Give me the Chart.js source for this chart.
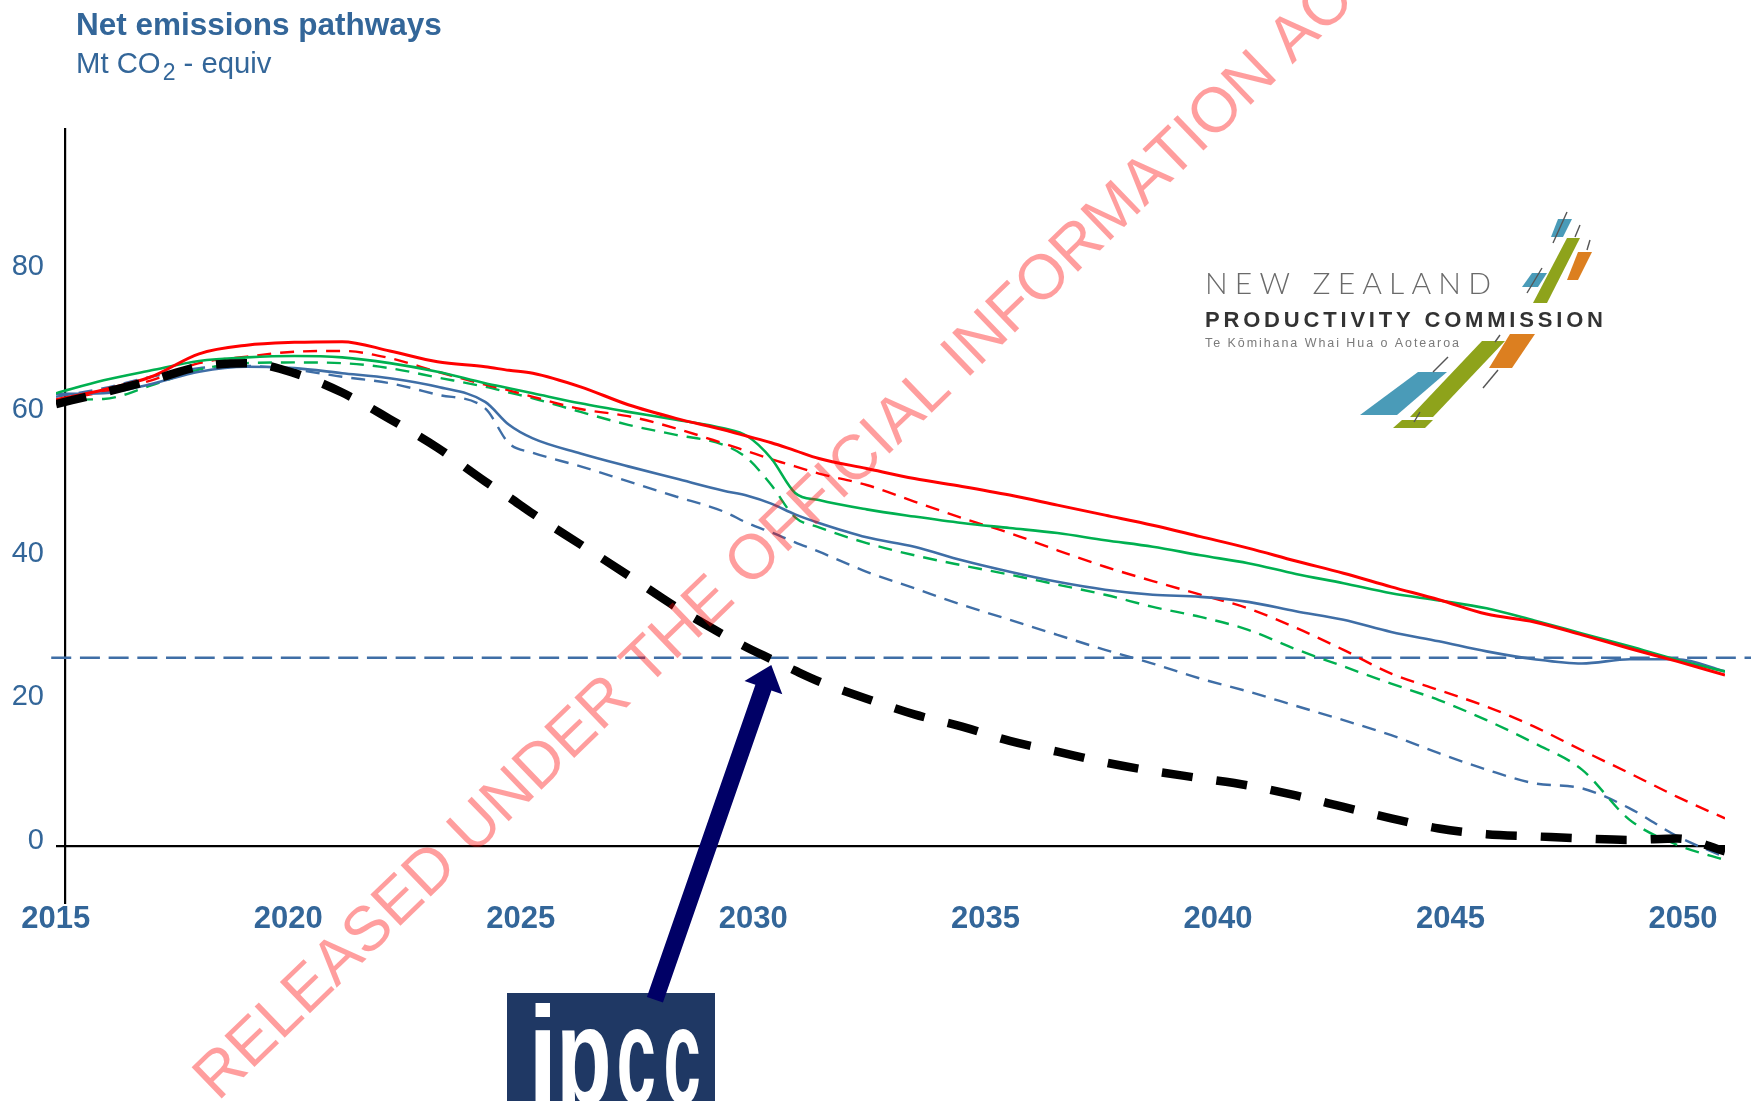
<!DOCTYPE html>
<html>
<head>
<meta charset="utf-8">
<title>Net emissions pathways</title>
<script src="https://cdn.jsdelivr.net/npm/chart.js@4.4.1/dist/chart.umd.min.js"></script>
<style>
  html, body { margin: 0; padding: 0; background: #fff; }
  canvas { display: block; }
</style>
</head>
<body>
<canvas id="myChart" width="1751" height="1101"></canvas>
<script>
// yearly points, plus a few half years where the pathways bend sharply
const years = [2015, 2016, 2017, 2018, 2019, 2020, 2021, 2022, 2023, 2024, 2024.5,
  2025, 2026, 2027, 2028, 2029, 2029.5, 2030, 2030.5, 2031, 2032, 2033, 2034, 2035,
  2036, 2037, 2038, 2039, 2040, 2041, 2042, 2043, 2044, 2045, 2046, 2047, 2048, 2049, 2050];

const redSolid = [62.2, 63.6, 65.4, 68.6, 69.8, 70.2, 70.3, 69.0, 67.5, 66.8, 66.3,
  65.9, 64.0, 61.5, 59.6, 58.0, 57.1, 56.2, 55.1, 54.0, 52.6, 51.2, 50.1, 48.9,
  47.5, 46.1, 44.7, 43.1, 41.5, 39.7, 38.0, 36.1, 34.3, 32.3, 31.2, 29.4, 27.5, 25.7, 23.8];
const redDashed = [62.1, 63.3, 64.9, 67.3, 68.2, 68.9, 69.0, 68.0, 66.1, 64.3, 63.5,
  62.6, 60.9, 59.9, 58.2, 56.1, 55.0, 53.9, 52.9, 51.9, 50.3, 48.0, 45.7, 43.6,
  41.2, 38.9, 36.9, 35.0, 33.1, 30.4, 27.3, 24.0, 21.7, 19.4, 16.6, 13.3, 10.1, 6.8, 3.8];
const greenSolid = [63.1, 64.9, 66.3, 67.6, 68.1, 68.3, 68.1, 67.3, 66.1, 64.5, 63.8,
  63.1, 61.7, 60.5, 59.4, 58.2, 57.1, 54.0, 49.2, 48.2, 46.9, 45.9, 45.0, 44.3,
  43.6, 42.6, 41.7, 40.5, 39.4, 37.9, 36.6, 35.2, 34.2, 33.1, 31.4, 29.6, 27.8, 25.9, 24.3];
const greenDashed = [62.2, 62.3, 64.2, 66.4, 67.3, 67.4, 67.3, 66.6, 65.3, 64.0, 63.2,
  62.4, 60.5, 58.7, 57.3, 55.9, 54.0, 50.3, 45.8, 44.4, 42.2, 40.5, 39.1, 37.8,
  36.4, 35.0, 33.3, 31.9, 30.1, 27.4, 25.0, 22.6, 20.3, 17.5, 14.3, 10.6, 3.6, 0.1, -2.0];
const blueSolid = [63.0, 63.1, 64.4, 66.1, 66.8, 66.6, 65.9, 65.2, 64.0, 61.9, 58.7,
  56.8, 54.7, 52.9, 51.2, 49.5, 48.8, 47.7, 46.2, 45.0, 43.0, 41.7, 39.8, 38.2,
  36.8, 35.7, 35.0, 34.7, 34.0, 32.7, 31.5, 29.8, 28.5, 27.1, 26.0, 25.4, 26.0, 26.0, 24.3];
const blueDashed = [62.6, 63.8, 65.4, 66.6, 66.9, 66.4, 65.4, 64.5, 62.9, 61.0, 56.1,
  54.8, 52.9, 50.8, 48.7, 46.6, 45.0, 43.7, 42.3, 41.0, 38.2, 35.9, 33.6, 31.5,
  29.4, 27.3, 25.4, 23.3, 21.5, 19.5, 17.5, 15.4, 12.9, 10.6, 8.7, 8.0, 5.2, 1.3, -1.6];
const ipccPath = [61.6, 63.2, 64.9, 66.8, 67.3, 65.9, 63.2, 59.5, 55.5, 50.8, 48.6,
  46.3, 42.0, 37.7, 33.3, 29.4, 27.6, 26.0, 24.4, 22.9, 20.5, 18.3, 16.6, 14.6,
  13.1, 11.6, 10.4, 9.4, 8.4, 7.0, 5.4, 3.8, 2.4, 1.6, 1.3, 1.0, 0.8, 1.0, -0.8];

// 2030 target level, run right across the plot
const targetLevel = 26.2;
const targetYears = [2014.9, 2050.6];

const yTicks = [0, 20, 40, 60, 80];
const xTicks = [2015, 2020, 2025, 2030, 2035, 2040, 2045, 2050];

const TEXT_BLUE = '#336699';
const LINE_BLUE = '#3f6ea6';
const RED = '#ff0000';
const GREEN = '#00b050';
const FONT = '"Liberation Sans", Arial, sans-serif';

const toPoints = values => values.map((v, i) => ({ x: years[i], y: v }));

function line(values, color, width, dash) {
  return {
    data: toPoints(values),
    borderColor: color,
    borderWidth: width,
    borderDash: dash || [],
    pointRadius: 0,
    fill: false,
    cubicInterpolationMode: 'monotone',
    xAxisID: 'x',
    yAxisID: 'y'
  };
}

function spacedText(ctx, text, x, y, width) {
  ctx.letterSpacing = '0px';
  const w = ctx.measureText(text).width;
  ctx.letterSpacing = ((width - w) / (text.length - 1)) + 'px';
  ctx.fillText(text, x, y);
  ctx.letterSpacing = '0px';
}

function poly(ctx, pts, color) {
  ctx.fillStyle = color;
  ctx.beginPath();
  ctx.moveTo(pts[0][0], pts[0][1]);
  for (let i = 1; i < pts.length; i++) ctx.lineTo(pts[i][0], pts[i][1]);
  ctx.closePath();
  ctx.fill();
}

// one glyph squeezed into the box [left, right]
function fitGlyph(ctx, ch, left, right, baseline) {
  const m = ctx.measureText(ch);
  const inkLeft = -m.actualBoundingBoxLeft;
  const inkW = m.actualBoundingBoxRight + m.actualBoundingBoxLeft;
  const k = (right - left) / inkW;
  ctx.save();
  ctx.translate(left, baseline);
  ctx.scale(k, 1);
  ctx.fillText(ch, -inkLeft, 0);
  ctx.restore();
}

const decor = {
  id: 'decor',
  afterDraw(chart) {
    const ctx = chart.ctx;
    const xs = chart.scales.x;
    const ys = chart.scales.y;
    ctx.save();
    ctx.textAlign = 'left';
    ctx.textBaseline = 'alphabetic';

    // heading
    ctx.fillStyle = TEXT_BLUE;
    ctx.font = 'bold 31.5px ' + FONT;
    ctx.fillText('Net emissions pathways', 76, 35);
    ctx.font = '29.3px ' + FONT;
    ctx.fillText('Mt CO', 76, 72.7);
    let cx = 76 + ctx.measureText('Mt CO').width + 2;
    ctx.font = '23px ' + FONT;
    ctx.fillText('2', cx, 80);
    cx += ctx.measureText('2').width;
    ctx.font = '29.3px ' + FONT;
    ctx.fillText(' - equiv', cx, 72.7);

    // Productivity Commission logo
    ctx.fillStyle = '#6a6a6a';
    ctx.font = '300 30px Lato, ' + FONT;
    spacedText(ctx, 'NEW ZEALAND', 1205, 294, 286);
    ctx.fillStyle = '#333';
    ctx.font = 'bold 22px ' + FONT;
    spacedText(ctx, 'PRODUCTIVITY COMMISSION', 1205, 327, 398);
    ctx.fillStyle = '#7a7a7a';
    ctx.font = '12.5px ' + FONT;
    spacedText(ctx, 'Te Kōmihana Whai Hua o Aotearoa', 1205, 347, 254);

    poly(ctx, [[1360, 415], [1418, 372], [1447, 372], [1397, 415]], '#4a9bb8');
    poly(ctx, [[1410, 417], [1482, 341], [1505, 341], [1433, 417]], '#8ea31b');
    poly(ctx, [[1393, 428], [1402, 420], [1433, 420], [1425, 428]], '#8ea31b');
    poly(ctx, [[1533, 303], [1567, 238], [1580, 238], [1547, 303]], '#8ea31b');
    poly(ctx, [[1489, 368], [1510, 334], [1535, 334], [1512, 368]], '#dc7f20');
    poly(ctx, [[1567, 280], [1578, 252], [1592, 252], [1578, 280]], '#dc7f20');
    poly(ctx, [[1551, 237], [1558, 219], [1572, 219], [1563, 237]], '#4a9bb8');
    poly(ctx, [[1522, 287], [1532, 273], [1547, 273], [1538, 287]], '#4a9bb8');
    ctx.strokeStyle = '#555';
    ctx.lineWidth = 1.4;
    [[1567, 212, 1553, 243], [1580, 225, 1575, 237], [1590, 240, 1587, 250],
     [1542, 268, 1527, 293], [1500, 335, 1495, 342], [1448, 357, 1433, 372],
     [1498, 370, 1483, 388], [1420, 412, 1414, 422]].forEach(s => {
      ctx.beginPath();
      ctx.moveTo(s[0], s[1]);
      ctx.lineTo(s[2], s[3]);
      ctx.stroke();
    });

    // IPCC badge
    ctx.fillStyle = '#1f3864';
    ctx.fillRect(507, 993, 208, 110);
    ctx.save();
    ctx.beginPath();
    ctx.rect(507, 993, 208, 110);
    ctx.clip();
    ctx.fillStyle = '#fff';
    ctx.font = 'bold 140px ' + FONT;
    fitGlyph(ctx, 'i', 535, 550, 1104);
    fitGlyph(ctx, 'p', 562, 608, 1104);
    fitGlyph(ctx, 'c', 619, 654, 1104);
    fitGlyph(ctx, 'c', 666, 699, 1104);
    ctx.restore();

    // arrow from the badge to the 2030 point of the IPCC pathway
    const tip = { x: xs.getPixelForValue(2030), y: ys.getPixelForValue(25.2) };
    const tail = { x: xs.getPixelForValue(2027.56), y: ys.getPixelForValue(-21.5) };
    const len = Math.hypot(tip.x - tail.x, tip.y - tail.y);
    const headLen = 24, headHalf = 20, shaftHalf = 8.5;
    ctx.save();
    ctx.translate(tail.x, tail.y);
    ctx.rotate(Math.atan2(tip.y - tail.y, tip.x - tail.x));
    ctx.fillStyle = '#000066';
    ctx.beginPath();
    ctx.moveTo(0, -shaftHalf);
    ctx.lineTo(len - headLen, -shaftHalf);
    ctx.lineTo(len - headLen, -headHalf);
    ctx.lineTo(len, 0);
    ctx.lineTo(len - headLen, headHalf);
    ctx.lineTo(len - headLen, shaftHalf);
    ctx.lineTo(0, shaftHalf);
    ctx.closePath();
    ctx.fill();
    ctx.restore();

    // release stamp across the page
    ctx.save();
    ctx.translate(218, 1102);
    ctx.rotate(-44 * Math.PI / 180);
    ctx.font = '63px ' + FONT;
    ctx.fillStyle = 'rgba(255, 0, 0, 0.38)';
    ctx.fillText('RELEASED UNDER THE OFFICIAL INFORMATION ACT', 0, 0);
    ctx.restore();

    ctx.restore();
  }
};

const ctx = document.getElementById('myChart');

new Chart(ctx, {
  type: 'line',
  data: {
    datasets: [
      line(ipccPath, '#000', 8.5, [31, 24]),
      line(redSolid, RED, 3),
      line(greenSolid, GREEN, 2.6),
      line(blueSolid, LINE_BLUE, 2.6),
      line(redDashed, RED, 2.4, [14, 9]),
      line(greenDashed, GREEN, 2.4, [14, 9]),
      line(blueDashed, LINE_BLUE, 2.4, [14, 9]),
      Object.assign(line(targetYears.map(() => targetLevel), LINE_BLUE, 2.6, [20, 8.7]), {
        data: targetYears.map(x => ({ x: x, y: targetLevel })),
        clip: false,
        cubicInterpolationMode: 'default'
      })
    ]
  },
  options: {
    responsive: false,
    animation: false,
    events: [],
    layout: { padding: { left: 12, right: 26, top: 128.7, bottom: 158 } },
    plugins: {
      legend: { display: false },
      tooltip: { enabled: false }
    },
    scales: {
      x: { type: 'linear', min: 2015, max: 2050, display: false },
      // year labels sit slightly tighter than the data years
      xl: {
        type: 'linear',
        axis: 'x',
        position: 'bottom',
        min: 2015.004,
        max: 2050.905,
        afterBuildTicks: s => { s.ticks = xTicks.map(v => ({ value: v })); },
        afterFit: s => { s.height = 40; },
        grid: { display: false, drawTicks: false, tickLength: 0 },
        border: { display: false },
        ticks: {
          autoSkip: false,
          maxRotation: 0,
          padding: -2,
          color: TEXT_BLUE,
          font: { family: FONT, size: 31, weight: 'bold' },
          callback: v => String(v)
        }
      },
      y: {
        type: 'linear',
        position: 'left',
        min: -8,
        max: 100,
        afterBuildTicks: s => { s.ticks = yTicks.map(v => ({ value: v })); },
        afterFit: s => { s.width = 44; },
        border: { display: false },
        grid: {
          drawTicks: false,
          tickLength: 0,
          lineWidth: 2.2,
          color: c => (c.tick && c.tick.value === 0 ? '#000' : 'rgba(0,0,0,0)')
        },
        ticks: {
          padding: 12,
          labelOffset: -5,
          color: TEXT_BLUE,
          font: { family: FONT, size: 29 }
        }
      },
      yLine: {
        type: 'linear',
        axis: 'y',
        position: { x: 2015.19 },
        min: -8,
        max: 100,
        ticks: { display: false },
        grid: { display: false, drawTicks: false },
        border: { display: true, color: '#000', width: 2.2 }
      }
    }
  },
  plugins: [decor]
});
</script>
</body>
</html>
